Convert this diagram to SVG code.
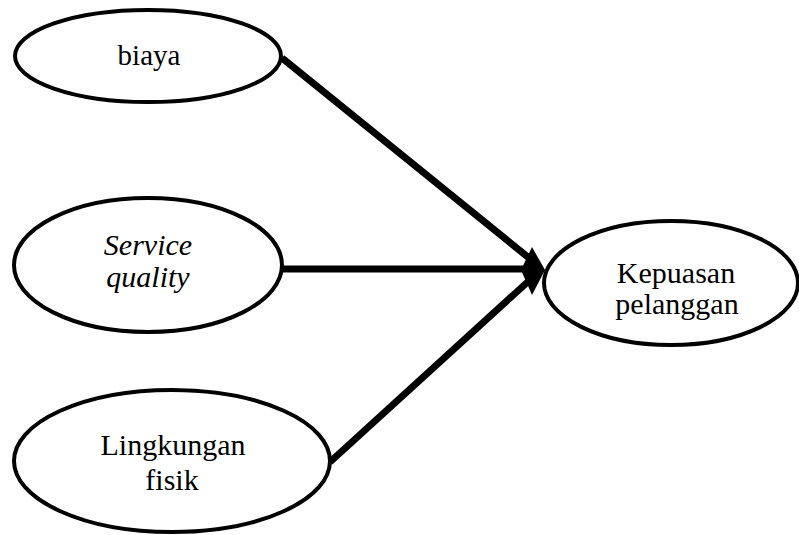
<svg xmlns="http://www.w3.org/2000/svg" width="799" height="535" viewBox="0 0 799 535" font-family="'Liberation Serif', 'Times New Roman', serif">
<defs>
<style>
.node ellipse{fill:#fff;stroke:#000;stroke-width:4}
.conn line{stroke:#000;stroke-width:7}
</style>
</defs>
<rect width="799" height="535" fill="#fff"/>
<g id="connectors" class="conn">
<line x1="282" y1="58" x2="534" y2="262"/>
<line x1="283" y1="269" x2="526" y2="269"/>
<line x1="330" y1="462" x2="532" y2="278"/>
<polygon points="545,270 532,247 521,270 532,295" fill="#000"/>
</g>
<g id="biaya" class="node">
<ellipse cx="148" cy="56" rx="133" ry="46"/>
<text x="149" y="65" font-family="Times New Roman" font-size="29" text-anchor="middle">biaya</text>
</g>
<g id="service-quality" class="node">
<ellipse cx="148" cy="265" rx="134" ry="67"/>
<text x="148" y="255" font-family="Times New Roman" font-size="30" text-anchor="middle" font-style="italic">Service</text>
<text x="148" y="287" font-family="Times New Roman" font-size="30" text-anchor="middle" font-style="italic">quality</text>
</g>
<g id="lingkungan-fisik" class="node">
<ellipse cx="172" cy="461" rx="158" ry="71"/>
<text x="173" y="455" font-family="Times New Roman" font-size="30" text-anchor="middle">Lingkungan</text>
<text x="172" y="490" font-family="Times New Roman" font-size="30" text-anchor="middle">fisik</text>
</g>
<g id="kepuasan-pelanggan" class="node">
<ellipse cx="671" cy="283" rx="127" ry="62"/>
<text x="676" y="283" font-family="Times New Roman" font-size="30" text-anchor="middle">Kepuasan</text>
<text x="677" y="314" font-family="Times New Roman" font-size="30" text-anchor="middle">pelanggan</text>
</g>
</svg>
